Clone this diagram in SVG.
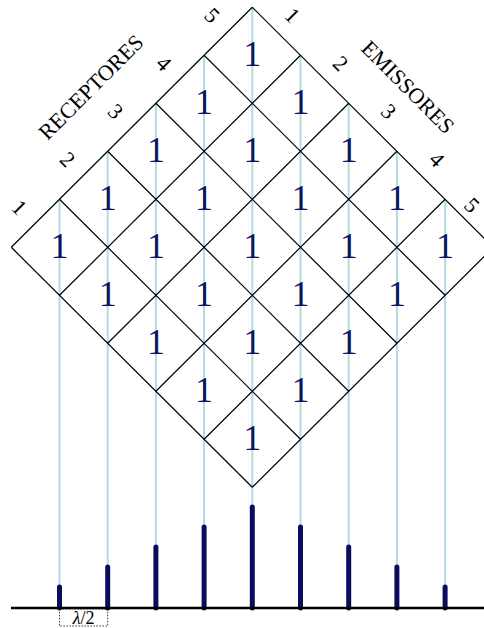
<svg xmlns="http://www.w3.org/2000/svg" width="484" height="628" viewBox="0 0 484 628">
<style>
.grid{stroke:#000;stroke-width:1.2;fill:none}
.ray{stroke:#b0dbe6;stroke-width:2;fill:none}
.bar{stroke:#050d5c;stroke-width:5;stroke-linecap:round}
.one{font-family:"Liberation Serif",serif;font-size:36px;fill:#0b1660;text-anchor:middle}
.lab{font-family:"Liberation Serif",serif;font-size:22px;fill:#000;text-anchor:middle;dominant-baseline:central}
.big{font-family:"Liberation Serif",serif;font-size:22px;fill:#000;text-anchor:middle;dominant-baseline:central}
</style>
<rect width="484" height="628" fill="#fff"/>
<g id="rays">
<line class="ray" x1="59.5" y1="199.3" x2="59.5" y2="608"/>
<line class="ray" x1="107.7" y1="151.3" x2="107.7" y2="608"/>
<line class="ray" x1="155.9" y1="103.3" x2="155.9" y2="608"/>
<line class="ray" x1="204.1" y1="55.3" x2="204.1" y2="608"/>
<line class="ray" x1="252.3" y1="7.3" x2="252.3" y2="608"/>
<line class="ray" x1="300.5" y1="55.3" x2="300.5" y2="608"/>
<line class="ray" x1="348.7" y1="103.3" x2="348.7" y2="608"/>
<line class="ray" x1="396.9" y1="151.3" x2="396.9" y2="608"/>
<line class="ray" x1="445.1" y1="199.3" x2="445.1" y2="608"/>
</g>
<g id="grid">
<line class="grid" x1="252.3" y1="7.3" x2="493.3" y2="247.3"/>
<line class="grid" x1="204.1" y1="55.3" x2="445.1" y2="295.3"/>
<line class="grid" x1="155.9" y1="103.3" x2="396.9" y2="343.3"/>
<line class="grid" x1="107.7" y1="151.3" x2="348.7" y2="391.3"/>
<line class="grid" x1="59.5" y1="199.3" x2="300.5" y2="439.3"/>
<line class="grid" x1="11.3" y1="247.3" x2="252.3" y2="487.3"/>
<line class="grid" x1="252.3" y1="7.3" x2="11.3" y2="247.3"/>
<line class="grid" x1="300.5" y1="55.3" x2="59.5" y2="295.3"/>
<line class="grid" x1="348.7" y1="103.3" x2="107.7" y2="343.3"/>
<line class="grid" x1="396.9" y1="151.3" x2="155.9" y2="391.3"/>
<line class="grid" x1="445.1" y1="199.3" x2="204.1" y2="439.3"/>
<line class="grid" x1="493.3" y1="247.3" x2="252.3" y2="487.3"/>
</g>
<g id="cells">
<text class="one" x="252.3" y="66">1</text>
<text class="one" x="204.1" y="114">1</text>
<text class="one" x="300.5" y="114">1</text>
<text class="one" x="155.9" y="162">1</text>
<text class="one" x="252.3" y="162">1</text>
<text class="one" x="348.7" y="162">1</text>
<text class="one" x="107.7" y="210">1</text>
<text class="one" x="204.1" y="210">1</text>
<text class="one" x="300.5" y="210">1</text>
<text class="one" x="396.9" y="210">1</text>
<text class="one" x="59.5" y="258">1</text>
<text class="one" x="155.9" y="258">1</text>
<text class="one" x="252.3" y="258">1</text>
<text class="one" x="348.7" y="258">1</text>
<text class="one" x="445.1" y="258">1</text>
<text class="one" x="107.7" y="306">1</text>
<text class="one" x="204.1" y="306">1</text>
<text class="one" x="300.5" y="306">1</text>
<text class="one" x="396.9" y="306">1</text>
<text class="one" x="155.9" y="354">1</text>
<text class="one" x="252.3" y="354">1</text>
<text class="one" x="348.7" y="354">1</text>
<text class="one" x="204.1" y="402">1</text>
<text class="one" x="300.5" y="402">1</text>
<text class="one" x="252.3" y="450">1</text>
</g>
<g id="receptores">
<text class="big" transform="translate(91,87) rotate(-45)">RECEPTORES</text>
<text class="lab" transform="translate(19.4,207.3) rotate(45)">1</text>
<text class="lab" transform="translate(67.6,159.3) rotate(45)">2</text>
<text class="lab" transform="translate(115.8,111.3) rotate(45)">3</text>
<text class="lab" transform="translate(164,63.3) rotate(45)">4</text>
<text class="lab" transform="translate(212.2,15.3) rotate(45)">5</text>
</g>
<g id="emissores">
<text class="big" transform="translate(408,87) rotate(45)">EMISSORES</text>
<text class="lab" transform="translate(292.4,15.3) rotate(45)">1</text>
<text class="lab" transform="translate(340.6,63.3) rotate(45)">2</text>
<text class="lab" transform="translate(388.8,111.3) rotate(45)">3</text>
<text class="lab" transform="translate(437,159.3) rotate(45)">4</text>
<text class="lab" transform="translate(472,205) rotate(45)">5</text>
</g>
<g id="bars">
<line class="bar" x1="59.5" y1="587" x2="59.5" y2="608"/>
<line class="bar" x1="107.7" y1="567" x2="107.7" y2="608"/>
<line class="bar" x1="155.9" y1="547" x2="155.9" y2="608"/>
<line class="bar" x1="204.1" y1="527" x2="204.1" y2="608"/>
<line class="bar" x1="252.3" y1="507" x2="252.3" y2="608"/>
<line class="bar" x1="300.5" y1="527" x2="300.5" y2="608"/>
<line class="bar" x1="348.7" y1="547" x2="348.7" y2="608"/>
<line class="bar" x1="396.9" y1="567" x2="396.9" y2="608"/>
<line class="bar" x1="445.1" y1="587" x2="445.1" y2="608"/>
</g>
<g id="baseline">
<line x1="11" y1="608" x2="484" y2="608" stroke="#000" stroke-width="2.5"/>
</g>
<g id="lambda">
<rect x="59.5" y="609" width="48.2" height="17" fill="none" stroke="#000" stroke-width="0.8" stroke-dasharray="1.5,1.5"/>
<text x="83.6" y="624" font-family="Liberation Serif,serif" font-size="18" text-anchor="middle"><tspan font-style="italic">λ</tspan>/2</text>
</g>
</svg>
